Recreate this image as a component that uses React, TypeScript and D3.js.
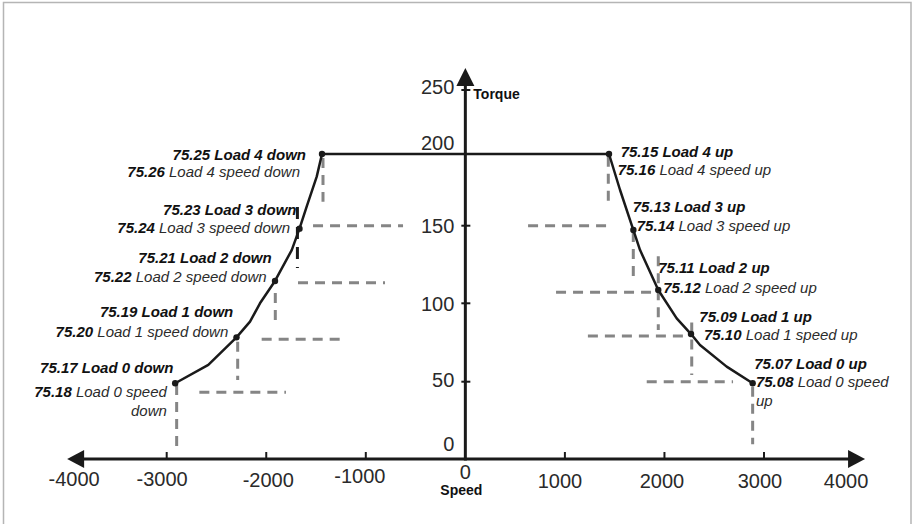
import React from "react";
import * as d3 from "d3";

// ---------- data ----------
const speedTicks = [-4000, -3000, -2000, -1000, 0, 1000, 2000, 3000, 4000];
const torqueTicks = [0, 50, 100, 150, 200, 250];

// torque/speed curve (left branch, plateau, right branch)
const curveSpeed = [-2915, -2582, -2299, -2163, -2063, -1912, -1744, -1666, -1594, -1493, -1440,
  1443, 1554, 1688, 1755, 1938, 2123, 2267, 2357, 2625, 2886];
const curveTorque = [49, 60.7, 78.3, 88.3, 100, 114.4, 134.3, 148.1, 163.3, 184.2, 200,
  200, 174.9, 147.2, 134.3, 108.6, 90.4, 80.4, 73.4, 59.6, 49];

// load points (Load 0 .. Load 4)
const loadDownSpeed = [-2915, -2299, -1912, -1666, -1440];
const loadDownTorque = [49, 78.3, 114.4, 148.1, 200];
const loadUpSpeed = [2886, 2267, 1938, 1688, 1443];
const loadUpTorque = [49, 80.4, 108.6, 147.2, 200];

// parameter labels
const downCodes = [["75.17", "75.18"], ["75.19", "75.20"], ["75.21", "75.22"], ["75.23", "75.24"], ["75.25", "75.26"]];
const upCodes = [["75.07", "75.08"], ["75.09", "75.10"], ["75.11", "75.12"], ["75.13", "75.14"], ["75.15", "75.16"]];
const loadNames = ["Load 0", "Load 1", "Load 2", "Load 3", "Load 4"];

// guide lines [speed1, torque1, speed2, torque2]
const guideSegments = [
  [1436, 198, 1436, 164], [630, 150, 1480, 150],
  [1687, 146, 1687, 117], [911, 107.1, 1885, 107.1],
  [1938, 130.3, 1938, 83], [1231, 79.1, 2257, 79.1],
  [2274, 87.8, 2274, 54.3], [1822, 50, 2689, 50],
  [2886, 46.8, 2886, 9.5],
  [-1430, 197.2, -1430, 166.7], [-1530, 150, -626, 150],
  [-1681, 113.3, -807, 113.3],
  [-1909, 106.6, -1909, 85], [-2046, 77, -1226, 77],
  [-2287, 75.5, -2287, 51.1], [-2672, 43.1, -1802, 43.1],
  [-2900, 47.9, -2900, 8],
];
const darkGuideSegments = [[-1687, 163, -1687, 122.7]];

// ---------- layout ----------
const W = 915, H = 524;
const AXIS_Y_RANGE = [459, 381.7, 303.3, 225.7, 154, 90];
const xTickNudge: Record<number, [number, number]> = {
  [-4000]: [7, 486], [-3000]: [-4.6, 486], [-2000]: [2, 486.5], [-1000]: [-6, 483],
  0: [0, 479], 1000: [-5, 488], 2000: [-2.5, 488], 3000: [-4, 488], 4000: [-17.5, 487.7],
};
const yTickDy: Record<number, number> = { 0: -8, 50: 5.6, 100: 7.4, 150: 7, 200: -4, 250: 4.3 };
// [dx1, dy1, dx2, dy2]
const downOffsets = [[-1.7, -10, -8.3, 13.3], [-3.2, -20, -8.2, -0.6], [-3.3, -18.3, -8.3, 0.7], [-3, -14, -9.5, 4.6], [-16, 6, -22, 23]];
const upOffsets = [[1.6, -14, 3.3, 3.4], [8.3, -12.3, 13, 6], [0, -16.7, 5, 3.3], [-0.6, -18.3, 3.4, 0.7], [11.7, 2.7, 8.7, 21]];

const FONT = "'Liberation Sans', Arial, Helvetica, sans-serif";
const INK = "#1a1a1a";
const GUIDE = "#858585";

export default function App() {
  const x = d3.scaleLinear().domain([-4000, 4000]).range([67.15, 863.55]);
  const y = d3.scaleLinear().domain(torqueTicks).range(AXIS_Y_RANGE);
  const x0 = x(0);
  const y0 = y(0);

  const pts: [number, number][] = curveSpeed.map((s, i) => [s, curveTorque[i]]);
  const line = d3.line<[number, number]>().x((d) => x(d[0])).y((d) => y(d[1])).curve(d3.curveLinear);

  const xMin = x(-4000), xMax = x(4000);
  const yTop = y(250) - 22;

  const renderLabel = (side: "down" | "up", i: number) => {
    const codes = side === "down" ? downCodes[i] : upCodes[i];
    const off = side === "down" ? downOffsets[i] : upOffsets[i];
    const px = x(side === "down" ? loadDownSpeed[i] : loadUpSpeed[i]);
    const py = y(side === "down" ? loadDownTorque[i] : loadUpTorque[i]);
    const anchor = side === "down" ? "end" : "start";
    const word = side === "down" ? "down" : "up";
    const wrap = i === 0;
    return (
      <g key={side + i} fontFamily={FONT} fontSize={15} fontStyle="italic" textAnchor={anchor}>
        <text x={px + off[0]} y={py + off[1]} fontWeight="bold" fill="#111">
          {codes[0]} {loadNames[i]} {word}
        </text>
        <text x={px + off[2]} y={py + off[3]} fill="#2b2b2b">
          <tspan fontWeight="bold" fill="#111">{codes[1]}</tspan>
          <tspan> {loadNames[i]} speed{wrap ? "" : " " + word}</tspan>
        </text>
        {wrap && (
          <text x={px + off[2]} y={py + off[3] + 19} fill="#2b2b2b">{word}</text>
        )}
      </g>
    );
  };

  return (
    <svg width={W} height={H} style={{ position: "absolute", left: 0, top: 0, background: "#fff" }}>
      <rect x={3.5} y={2.5} width={907.5} height={H + 20} fill="#fff" stroke="#b5b5b5" strokeWidth={1.5} />

      {/* guide lines */}
      {guideSegments.map((g, i) => (
        <line key={"g" + i} x1={x(g[0])} y1={y(g[1])} x2={x(g[2])} y2={y(g[3])}
          stroke={GUIDE} strokeWidth={3} strokeDasharray="10 7" />
      ))}
      {darkGuideSegments.map((g, i) => (
        <line key={"dg" + i} x1={x(g[0])} y1={y(g[1])} x2={x(g[2])} y2={y(g[3])}
          stroke={INK} strokeWidth={3} strokeDasharray="12 8" />
      ))}

      {/* axes */}
      <line x1={xMin + 10} y1={y0} x2={xMax - 10} y2={y0} stroke={INK} strokeWidth={3} />
      <path d={`M${xMin},${y0} L${xMin + 17},${y0 - 9} L${xMin + 17},${y0 + 9} Z`} fill={INK} />
      <path d={`M${xMax + 1.5},${y0} L${xMax - 15.5},${y0 - 9} L${xMax - 15.5},${y0 + 9} Z`} fill={INK} />
      <line x1={x0} y1={y0 + 1.5} x2={x0} y2={yTop + 10} stroke={INK} strokeWidth={3} />
      <path d={`M${x0},${yTop} L${x0 - 9},${yTop + 18} L${x0 + 9},${yTop + 18} Z`} fill={INK} />

      {speedTicks.filter((t) => t !== 0 && Math.abs(t) !== 4000).map((t) => (
        <line key={"xt" + t} x1={x(t)} y1={y0} x2={x(t)} y2={y0 - 7} stroke={INK} strokeWidth={2} />
      ))}
      {torqueTicks.filter((t) => t !== 0).map((t) => (
        <line key={"yt" + t} x1={x0 - 4} y1={y(t)} x2={x0 + 5} y2={y(t)} stroke={INK} strokeWidth={2} />
      ))}

      {speedTicks.map((t) => (
        <text key={"xl" + t} x={x(t) + xTickNudge[t][0]} y={xTickNudge[t][1]} textAnchor="middle"
          fontFamily={FONT} fontSize={20} fill="#2a2a2a">{t}</text>
      ))}
      {torqueTicks.map((t) => (
        <text key={"yl" + t} x={x0 - 11} y={y(t) + yTickDy[t]} textAnchor="end"
          fontFamily={FONT} fontSize={20} fill="#2a2a2a">{t}</text>
      ))}

      <text x={x0 + 8} y={y(250) + 8.5} fontFamily={FONT} fontSize={14} fontWeight="bold" fill="#111">Torque</text>
      <text x={x0 - 4} y={495} textAnchor="middle" fontFamily={FONT} fontSize={14} fontWeight="bold" fill="#111">Speed</text>

      {/* curve */}
      <path d={line(pts) || ""} fill="none" stroke={INK} strokeWidth={2.5} strokeLinejoin="round" />

      {loadDownSpeed.map((s, i) => (
        <circle key={"dd" + i} cx={x(s)} cy={y(loadDownTorque[i])} r={3.2} fill={INK} />
      ))}
      {loadUpSpeed.map((s, i) => (
        <circle key={"du" + i} cx={x(s)} cy={y(loadUpTorque[i])} r={3.2} fill={INK} />
      ))}

      {loadNames.map((_, i) => renderLabel("down", i))}
      {loadNames.map((_, i) => renderLabel("up", i))}
    </svg>
  );
}
